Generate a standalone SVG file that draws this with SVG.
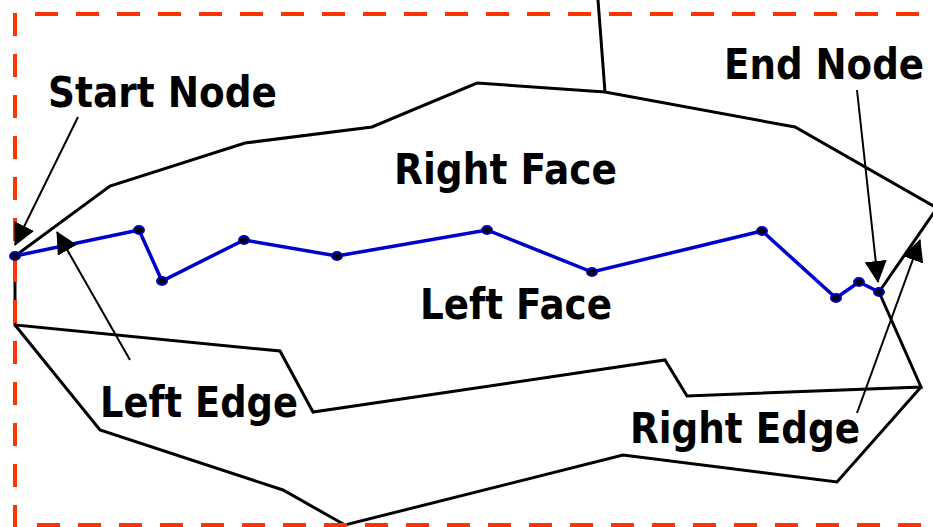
<svg xmlns="http://www.w3.org/2000/svg" width="933" height="527" viewBox="0 0 933 527">
<style>
.outline{fill:none;stroke:#000;stroke-width:3;stroke-linejoin:miter}
.frame{fill:none;stroke:#FF3300;stroke-width:4;stroke-dasharray:23 18}
.chain{fill:none;stroke:#0000CC;stroke-width:3.5}
.vtx{fill:#000;stroke:#0000CC;stroke-width:2}
.arrow{fill:none;stroke:#000;stroke-width:2;marker-end:url(#ah)}
.lbl{font-family:"DejaVu Sans","Liberation Sans",sans-serif;font-weight:bold;font-size:43px;fill:#000}
</style>
<defs>
<marker id="ah" markerUnits="userSpaceOnUse" markerWidth="22" markerHeight="22" refX="21" refY="11" orient="auto">
<path d="M0,0 L22,11 L0,22 Z" fill="#000"/>
</marker>
</defs>
<rect width="933" height="527" fill="#fff"/>
<g id="right-face-boundary">
<polyline class="outline" points="15,256 110,186 245,143 372,127 477,83 605,92 795,127 937,208 879,292"/>
<line class="outline" x1="605" y1="92" x2="598" y2="0"/>
</g>
<g id="left-face-boundary">
<polyline class="outline" points="15,256 15,325 280,351 313,412 665,360 687,396 921,387 879,292"/>
<polyline class="outline" points="15,325 100,430 283,490 345,525 623,455 837,482 921,387"/>
</g>
<g id="frame">
<line class="frame" x1="35" y1="14" x2="933" y2="14"/>
<line class="frame" x1="15" y1="13" x2="15" y2="527"/>
<line class="frame" x1="37" y1="525" x2="933" y2="525"/>
</g>
<g id="edge-chain">
<polyline class="chain" points="15,256 139,230 162,281 244,240 337,256 487,230 592,272 762,231 836,298 859,282 879,292"/>
<ellipse class="vtx" cx="15" cy="256" rx="5" ry="4"/>
<ellipse class="vtx" cx="139" cy="230" rx="5" ry="4"/>
<ellipse class="vtx" cx="162" cy="281" rx="5" ry="4"/>
<ellipse class="vtx" cx="244" cy="240" rx="5" ry="4"/>
<ellipse class="vtx" cx="337" cy="256" rx="5" ry="4"/>
<ellipse class="vtx" cx="487" cy="230" rx="5" ry="4"/>
<ellipse class="vtx" cx="592" cy="272" rx="5" ry="4"/>
<ellipse class="vtx" cx="762" cy="231" rx="5" ry="4"/>
<ellipse class="vtx" cx="836" cy="298" rx="5" ry="4"/>
<ellipse class="vtx" cx="859" cy="282" rx="5" ry="4"/>
<ellipse class="vtx" cx="879" cy="292" rx="5" ry="4"/>
</g>
<g id="connectors">
<line class="arrow" x1="78" y1="117" x2="15" y2="245"/>
<line class="arrow" x1="130" y1="360" x2="57" y2="232"/>
<line class="arrow" x1="857" y1="90" x2="878" y2="282"/>
<line class="arrow" x1="857" y1="413" x2="920" y2="240"/>
</g>
<g id="labels">
<text id="start-node" class="lbl" x="48" y="107" textLength="229" lengthAdjust="spacingAndGlyphs">Start Node</text>
<text id="end-node" class="lbl" x="724" y="79" textLength="200" lengthAdjust="spacingAndGlyphs">End Node</text>
<text id="right-face" class="lbl" x="394" y="184" textLength="223" lengthAdjust="spacingAndGlyphs">Right Face</text>
<text id="left-face" class="lbl" x="420" y="319" textLength="192" lengthAdjust="spacingAndGlyphs">Left Face</text>
<text id="left-edge" class="lbl" x="100" y="417" textLength="198" lengthAdjust="spacingAndGlyphs">Left Edge</text>
<text id="right-edge" class="lbl" x="630" y="443" textLength="230" lengthAdjust="spacingAndGlyphs">Right Edge</text>
</g>
</svg>
